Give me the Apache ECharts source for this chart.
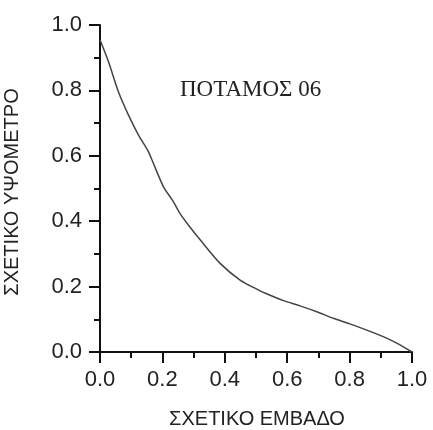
<!DOCTYPE html>
<html>
<head>
<meta charset="utf-8">
<script src="https://cdn.jsdelivr.net/npm/echarts@6/dist/echarts.min.js"></script>
<style>
html,body{margin:0;padding:0;background:#fff;}
#chart{width:433px;height:430px;}
</style>
</head>
<body>
<div id="chart"></div>
<script>
// Relative area (x) and relative elevation (y)
var relArea = [0, 0.027, 0.059, 0.091, 0.123, 0.155, 0.171, 0.203, 0.235, 0.256, 0.29, 0.321, 0.385, 0.449, 0.507, 0.534, 0.588, 0.641, 0.695, 0.748, 0.801, 0.855, 0.908, 0.951, 1.0];
var relElev = [0.955, 0.888, 0.796, 0.725, 0.664, 0.613, 0.577, 0.506, 0.46, 0.424, 0.38, 0.343, 0.271, 0.22, 0.19, 0.178, 0.157, 0.141, 0.123, 0.103, 0.086, 0.067, 0.047, 0.027, 0.0];
var xName = 'ΣΧΕΤΙΚΟ ΕΜΒΑΔΟ';
var yName = 'ΣΧΕΤΙΚΟ ΥΨΟΜΕΤΡΟ';
var label = 'ΠΟΤΑΜΟΣ 06';

var pts = relArea.map(function (x, i) { return [x, relElev[i]]; });
var chart = echarts.init(document.getElementById('chart'), null, {renderer: 'canvas'});
var sans = 'Liberation Sans, Arial, sans-serif';
var axisCommon = {
  type: 'value', min: 0, max: 1, interval: 0.2,
  splitLine: {show: false},
  axisLine: {show: true, lineStyle: {color: '#111', width: 2}},
  axisTick: {show: true, inside: false, length: 11, lineStyle: {color: '#111', width: 2}},
  minorTick: {show: true, splitNumber: 2, length: 6, lineStyle: {color: '#111', width: 2}},
  axisLabel: {fontFamily: sans, fontSize: 22, color: '#222',
    formatter: function (v) { return v.toFixed(1); }}
};
chart.setOption({
  animation: false,
  backgroundColor: '#fff',
  grid: {left: 100, right: 21, top: 25, bottom: 78, containLabel: false},
  xAxis: Object.assign({}, axisCommon, {
    axisLabel: Object.assign({}, axisCommon.axisLabel, {margin: 17})}),
  yAxis: Object.assign({}, axisCommon, {
    axisLabel: Object.assign({}, axisCommon.axisLabel, {margin: 18})}),
  graphic: [{
    type: 'text', left: 180, top: 78,
    style: {text: label, fontFamily: 'Liberation Serif, Times New Roman, serif', fontSize: 23, fill: '#222'}
  }, {
    type: 'text', x: 257, y: 419,
    style: {text: xName, fontFamily: sans, fontSize: 20, fill: '#222', align: 'center', verticalAlign: 'middle'}
  }, {
    type: 'text', x: 12, y: 192, rotation: Math.PI / 2,
    style: {text: yName, fontFamily: sans, fontSize: 20, fill: '#222', align: 'center', verticalAlign: 'middle'}
  }],
  series: [{
    type: 'line', data: pts, smooth: 0.25, showSymbol: false,
    lineStyle: {color: '#444', width: 1.5}
  }]
});
</script>
</body>
</html>
